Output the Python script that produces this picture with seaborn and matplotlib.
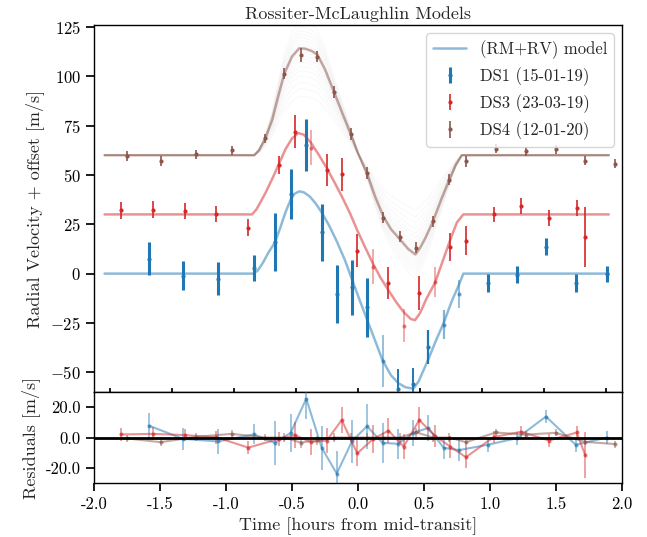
import numpy as np
import pandas as pd
import matplotlib
matplotlib.use("Agg")
import matplotlib.pyplot as plt
import seaborn as sns

# ---------------- data ----------------
offsets = [0, 30, 60]
labels = ["DS1 (15-01-19)", "DS3 (23-03-19)", "DS4 (12-01-20)"]
colors = ["#1f77b4", "#d62728", "#8c564b"]

ds1_time = [-1.586, -1.326, -1.063, -0.790, -0.631, -0.510, -0.392, -0.275, -0.161, -0.045,
            0.068, 0.186, 0.305, 0.417, 0.533, 0.649, 0.765, 0.983, 1.205, 1.424, 1.649, 1.886]
ds1_rv = [7.5, -1.0, -2.5, 2.7, 16.2, 40.5, 65.3, 20.9, -10.4, -7.0,
          -17.1, -44.3, -58.3, -56.1, -37.2, -25.9, -10.2, -4.9, -0.6, 13.6, -4.7, 0.0]
ds1_err = [8.3, 7.3, 8.3, 6.6, 14.7, 12.7, 13.3, 14.3, 14.7, 14.1,
           14.8, 13.0, 10.0, 8.4, 8.7, 7.3, 7.2, 4.6, 4.3, 4.4, 4.5, 4.0]
ds1_res = [7.9, -0.9, -2.6, 2.0, -3.5, 3.1, 25.6, -6.8, -23.8, -2.4,
           7.4, -3.5, -4.2, 3.1, 6.3, -6.8, -8.3, -4.8, -0.4, 13.8, -4.8, 0.0]

ds3_time = [-1.798, -1.553, -1.313, -1.073, -0.831, -0.596, -0.475, -0.358, -0.237, -0.123,
            -0.006, 0.114, 0.231, 0.346, 0.464, 0.583, 0.699, 0.818, 1.027, 1.237, 1.447, 1.657, 1.721]
ds3_rv = [2.1, 2.4, 1.6, 0.2, -6.7, 25.2, 42.0, 33.9, 22.7, 20.3,
          -18.3, -26.4, -34.7, -56.4, -39.9, -34.1, -16.6, -13.3, 0.1, 4.1, -2.0, 3.3, -11.6]
ds3_err = [4.2, 4.2, 4.0, 4.2, 4.2, 4.5, 8.4, 8.7, 8.1, 8.3,
           8.6, 9.0, 8.3, 8.4, 8.5, 7.5, 7.2, 7.3, 3.9, 4.0, 4.0, 4.0, 15.3]
ds3_res = [2.0, 2.4, 1.6, 0.2, -6.7, -0.8, 1.5, -3.0, -2.0, 11.5,
           -10.5, -1.0, 4.5, -6.0, 11.5, 1.0, -6.0, -13.0, 0.3, 3.8, -2.0, 3.3, -11.6]

ds4_time = [-1.750, -1.495, -1.230, -0.957, -0.702, -0.558, -0.434, -0.308, -0.182, -0.055,
            0.068, 0.192, 0.316, 0.442, 0.568, 0.692, 0.818, 1.043, 1.270, 1.498, 1.722, 1.945]
ds4_rv = [-0.6, -3.1, 0.4, 2.4, 8.5, 41.4, 50.8, 50.0, 32.1, 10.7,
          -9.2, -31.8, -41.4, -46.9, -33.5, -12.4, -3.1, 3.3, 1.9, 3.1, -2.9, -4.3]
ds4_err = [2.5, 2.5, 2.5, 2.5, 2.5, 3.0, 3.4, 3.0, 3.0, 3.0,
           3.0, 2.8, 2.8, 2.8, 2.8, 2.8, 2.8, 2.3, 2.3, 2.3, 2.3, 2.3]
ds4_res = [-0.6, -3.1, 0.4, 2.4, 0.0, 0.0, -3.4, -1.7, 0.0, 0.0,
           0.0, 0.0, 0.0, 3.4, 0.0, 0.0, -3.1, 3.3, 1.9, 3.1, -2.9, -4.3]

# model curves (read at sample times)
m1_time = [-1.92, -0.793, -0.76, -0.72, -0.68, -0.631, -0.59, -0.55, -0.51, -0.48, -0.445,
           -0.41, -0.364, -0.32, -0.275, -0.22, -0.161, -0.10, -0.045, 0.01, 0.068, 0.13,
           0.186, 0.25, 0.305, 0.36, 0.42, 0.46, 0.533, 0.59, 0.649, 0.71, 0.765, 0.798, 1.90]
m1_rv = [0, 0, 1.5, 5.5, 10.5, 15.6, 23.0, 31.0, 37.5, 40.5, 41.7,
         41.2, 39.0, 35.5, 31.0, 24.5, 16.4, 7.0, -3.0, -13.0, -23.2, -34.0,
         -44.0, -51.5, -55.5, -57.6, -58.3, -54.5, -43.4, -34.0, -25.0, -14.0, -5.6, 0, 0]
m3_time = [-1.92, -0.803, -0.77, -0.742, -0.70, -0.65, -0.596, -0.55, -0.50, -0.452,
           -0.41, -0.358, -0.30, -0.237, -0.18, -0.123, -0.06, -0.006, 0.06, 0.114, 0.17,
           0.231, 0.29, 0.346, 0.40, 0.432, 0.47, 0.52, 0.583, 0.64, 0.699, 0.75, 0.798, 1.90]
m3_rv = [0, 0, 2.5, 5.8, 11.0, 18.0, 26.0, 33.0, 38.5, 41.2,
         40.4, 36.5, 30.5, 23.5, 16.5, 9.2, 0.5, -8.0, -17.5, -25.0, -32.0,
         -38.5, -44.5, -49.5, -53.0, -53.6, -50.0, -42.5, -34.7, -24.0, -12.8, -4.0, 0, 0]
m4_time = [-1.92, -0.786, -0.75, -0.702, -0.65, -0.60, -0.558, -0.50, -0.445, -0.40, -0.35,
           -0.308, -0.25, -0.182, -0.12, -0.055, 0.0, 0.068, 0.13, 0.192, 0.25, 0.316, 0.38,
           0.435, 0.47, 0.51, 0.568, 0.63, 0.692, 0.74, 0.786, 1.90]
m4_rv = [0, 0, 2.5, 8.5, 18.0, 31.0, 41.4, 50.0, 54.2, 54.0, 52.8,
         51.0, 43.5, 32.1, 21.5, 10.7, 1.0, -9.2, -21.0, -31.0, -37.5, -42.5, -47.5,
         -50.3, -47.0, -42.0, -33.5, -22.5, -12.4, -5.0, 0, 0]
draw_scales = [0.55, 0.62, 0.68, 0.74, 0.79, 0.83, 0.87, 0.9, 0.93, 0.96, 0.98, 1.0,
               1.02, 1.04, 1.07, 1.1, 1.13, 1.16, 1.2, 1.25]

main_ticks = [-1.879, -1.409, -0.939, -0.470, 0.0, 0.470, 0.939, 1.409, 1.879]

# per-point errorbar styles (faded points)
ds1_alpha = [1] * 11 + [0.55, 1, 1, 1, 0.55, 0.55] + [1] * 5
ds1_elw = [2.2] * 11 + [1.2, 1.4, 1.4, 1.6, 1.6, 1.2] + [2.2] * 5
ds3_alpha = [1] * 7 + [0.45, 1, 1, 1, 0.45, 1, 0.45, 1, 0.45] + [1] * 7

# ---------------- style ----------------
sns.set_theme(style="ticks")
plt.rcParams.update({
    "font.family": "serif",
    "font.serif": ["cmr10"],
    "mathtext.fontset": "cm",
    "axes.formatter.use_mathtext": True,
    "axes.unicode_minus": True,
    "font.size": 12,
    "axes.labelsize": 13,
    "xtick.labelsize": 12,
    "ytick.labelsize": 12,
    "legend.fontsize": 12,
    "axes.titlesize": 13,
    "axes.edgecolor": "black",
    "axes.linewidth": 1.0,
    "xtick.color": "black",
    "ytick.color": "black",
})

fig = plt.figure(figsize=(6.47, 5.37), dpi=100)
ax = fig.add_axes([94 / 647, 1 - 392 / 537, 528 / 647, 367 / 537])
axr = fig.add_axes([94 / 647, 1 - 483 / 537, 528 / 647, 91 / 537])

# faint model draws around DS4 model
for s in draw_scales:
    ax.plot(m4_time, [v * s + offsets[2] for v in m4_rv], color="0.6", alpha=0.06, lw=0.8, zorder=1)

models = [(m1_time, m1_rv), (m3_time, m3_rv), (m4_time, m4_rv)]
for i, (mt, mv) in enumerate(models):
    df = pd.DataFrame({"t": mt, "v": [v + offsets[i] for v in mv]})
    sns.lineplot(data=df, x="t", y="v", ax=ax, color=colors[i], alpha=0.5, lw=1.8,
                 label="(RM+RV) model" if i == 0 else None, zorder=2, sort=False)

# DS1
for j in range(len(ds1_time)):
    ax.errorbar(ds1_time[j], ds1_rv[j] + offsets[0], yerr=ds1_err[j], fmt="o", ms=2,
                color=colors[0], alpha=ds1_alpha[j], elinewidth=ds1_elw[j], zorder=3)
# DS3
for j in range(len(ds3_time)):
    ax.errorbar(ds3_time[j], ds3_rv[j] + offsets[1], yerr=ds3_err[j], fmt="o", ms=2,
                color=colors[1], alpha=ds3_alpha[j], elinewidth=1.2, zorder=3)
# DS4
ax.errorbar(ds4_time, [x + offsets[2] for x in ds4_rv], yerr=ds4_err, fmt="o", ms=2,
            color=colors[2], elinewidth=1.2, zorder=3)

# legend handles
h_model = ax.get_legend_handles_labels()[0][0]
h1 = ax.errorbar([], [], yerr=[], fmt="o", ms=2, color=colors[0], elinewidth=2.2)
h3 = ax.errorbar([], [], yerr=[], fmt="o", ms=2, color=colors[1], elinewidth=1.2)
h4 = ax.errorbar([], [], yerr=[], fmt="o", ms=2, color=colors[2], elinewidth=1.2)
ax.legend([h_model, h1, h3, h4], ["(RM+RV) model"] + labels, loc="upper right",
          frameon=True, fancybox=True, framealpha=0.8)

res = [(ds1_time, ds1_res, ds1_err), (ds3_time, ds3_res, ds3_err), (ds4_time, ds4_res, ds4_err)]
for i, (t, r, e) in enumerate(res):
    axr.errorbar(t, r, yerr=e, fmt="o-", ms=2, color=colors[i], alpha=0.5, lw=1.5,
                 elinewidth=1.2, zorder=3)
axr.axhline(0, color="black", lw=2, zorder=4)

ax.set_xlim(-2.0, 2.0)
ax.set_ylim(-60, 126)
ax.set_xticks(main_ticks)
ax.tick_params(axis="x", direction="in", labelbottom=False, length=3)
ax.set_yticks([-50, -25, 0, 25, 50, 75, 100, 125])
ax.set_ylabel("Radial Velocity + offset [m/s]")
ax.set_title("Rossiter-McLaughlin Models", pad=4)
ax.set_xlabel("")

axr.set_xlim(-2.0, 2.0)
axr.set_ylim(-30, 30)
axr.set_yticks([-20, 0, 20])
axr.yaxis.set_major_formatter(matplotlib.ticker.FormatStrFormatter("%.1f"))
axr.set_xticks([-2.0, -1.5, -1.0, -0.5, 0.0, 0.5, 1.0, 1.5, 2.0])
axr.xaxis.set_major_formatter(matplotlib.ticker.FormatStrFormatter("%.1f"))
axr.set_xlabel("Time [hours from mid-transit]")
axr.set_ylabel("Residuals [m/s]")

fig.savefig("out.png", dpi=100)
